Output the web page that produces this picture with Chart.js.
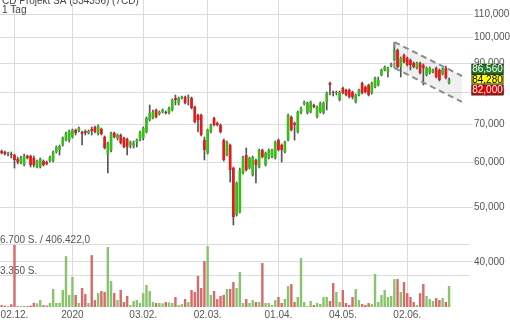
<!DOCTYPE html>
<html>
<head>
<meta charset="utf-8">
<script src="https://cdn.jsdelivr.net/npm/chart.js@4.4.1/dist/chart.umd.min.js"></script>
<style>
  html, body { margin: 0; padding: 0; background: #fff; }
  #wrap { width: 510px; height: 320px; position: relative; }
</style>
</head>
<body>
<div id="wrap"><canvas id="chart"></canvas></div>
<script>
const titleText = 'CD Projekt SA (534356) (7CD)';
const periodText = '1 Tag';

// daily candles, 26.11.2019 .. 19.06.2020
const opens = [
  62880, 62630, 62120, 62120, 61860, 60870, 59880, 59390, 61610, 61610,
  61120, 58910, 58910, 60370, 60130, 60370, 60370, 62630, 63140, 64440,
  65770, 65770, 66590, 68510, 68230, 67960, 68230, 67680, 68790, 69360,
  67410, 68790, 66590, 61860, 63140, 67680, 66310, 67130, 66310, 66040,
  64440, 64180, 65240, 65770, 66310, 67960, 71370, 71960, 74350, 73140,
  73750, 73750, 73440, 74350, 78080, 76500, 78080, 78400, 78080, 78080,
  75270, 72840, 72840, 65770, 62370, 67960, 71960, 70510, 69930, 65770,
  61860, 64440, 58670, 48420, 49020, 57480, 61860, 58670, 57010, 60620,
  58910, 63140, 59390, 61120, 61360, 61120, 65770, 64440, 62630, 65770,
  72250, 70510, 67960, 73440, 76190, 73440, 73750, 75880, 72250, 73750,
  73440, 76820, 83010, 80020, 79690, 77440, 81330, 80670, 80670, 80020,
  76820, 79040, 83010, 81660, 82330, 79690, 81660, 82330, 85760, 87530,
  86820, 88970, 91170, 94980, 88610, 93050, 91920, 91170, 90070, 88250,
  90070, 89330, 85760, 86470, 86820, 88250, 87530, 86110, 88250, 83010
];
const highs = [
  63140, 62880, 62630, 62630, 62120, 61360, 61610, 62120, 61860, 61860,
  61610, 60620, 61120, 60620, 60370, 61610, 62880, 64180, 64440, 66590,
  67960, 68510, 68790, 68790, 69360, 68230, 68510, 68510, 69360, 69650,
  69930, 69080, 66860, 65240, 67960, 67960, 67410, 67410, 66590, 66310,
  65500, 65500, 66040, 68230, 69360, 72250, 75880, 74350, 74660, 74050,
  74660, 74050, 75270, 77760, 79040, 78400, 78720, 78720, 79040, 78400,
  75570, 73140, 73140, 66590, 68790, 70220, 72250, 70790, 70220, 66040,
  65500, 64710, 58910, 55420, 58670, 61610, 63660, 61360, 61610, 60870,
  63400, 63400, 62630, 63400, 63400, 65500, 66040, 64710, 65500, 73140,
  72550, 70790, 74050, 75270, 77130, 76820, 77130, 76190, 75570, 76820,
  76820, 80020, 83350, 80340, 80340, 80340, 81660, 81000, 81000, 80340,
  79370, 81000, 83350, 82000, 82670, 83350, 85070, 85070, 87890, 88970,
  88610, 90070, 97710, 95370, 92300, 93440, 92300, 91550, 90430, 90430,
  90430, 89700, 88610, 88610, 87890, 88610, 87890, 88250, 88970, 84720
];
const lows = [
  62120, 61860, 61610, 61120, 58670, 59640, 59640, 59150, 60870, 58910,
  58910, 58670, 58670, 59150, 59390, 60130, 60130, 62370, 61860, 64180,
  65500, 65240, 66310, 67130, 67960, 64440, 67130, 67410, 67130, 67680,
  67130, 67130, 63400, 57480, 62630, 66310, 65770, 64710, 63660, 61860,
  63660, 63660, 63920, 65500, 65770, 67680, 71080, 71660, 71960, 72840,
  73440, 73140, 73140, 74050, 75880, 75880, 77760, 76190, 75880, 74660,
  70510, 67960, 66860, 60620, 62120, 67680, 69650, 69650, 67680, 60370,
  61610, 55420, 46490, 48230, 48820, 57250, 57950, 58430, 56780, 55190,
  58670, 61120, 59150, 60870, 61120, 60870, 62880, 60130, 62370, 65500,
  68230, 65770, 67680, 73140, 75880, 73140, 73440, 74960, 71960, 73440,
  73140, 74350, 79040, 78720, 79040, 77130, 79370, 78720, 78080, 77760,
  76500, 78720, 79370, 79690, 78720, 79370, 81330, 82000, 85410, 87180,
  85070, 88610, 90800, 88250, 85070, 90070, 88970, 87530, 88250, 87890,
  86110, 82330, 85410, 86110, 86470, 84720, 83690, 85760, 84380, 82670
];
const closes = [
  62370, 62120, 62370, 61860, 60620, 60130, 61120, 61610, 61120, 59390,
  59390, 60370, 60870, 59390, 59640, 61360, 62630, 63920, 64180, 66310,
  67680, 68230, 68510, 67680, 69080, 67410, 67680, 68230, 68230, 67960,
  69650, 67410, 63660, 64970, 67680, 66590, 67130, 64970, 63920, 63920,
  65240, 64970, 65770, 67960, 69080, 71960, 73440, 73750, 72250, 73750,
  74350, 73440, 74960, 77440, 77440, 78080, 78400, 76500, 78400, 74960,
  70790, 71370, 67130, 63140, 68510, 69930, 69930, 69930, 67960, 60620,
  65240, 58190, 48030, 55190, 58190, 61360, 58190, 61120, 61360, 59390,
  63140, 61360, 62370, 63140, 63140, 65240, 63140, 63140, 65240, 72840,
  68510, 69930, 73750, 74960, 76820, 76500, 76820, 75270, 75270, 76500,
  76500, 79690, 82330, 79690, 80020, 80020, 79690, 79040, 78400, 78400,
  79040, 80670, 79690, 80020, 79040, 83010, 84720, 84030, 87530, 88610,
  88250, 89700, 94980, 88610, 91920, 90430, 89330, 89330, 88610, 90070,
  86470, 88250, 88250, 88250, 87530, 85070, 84030, 87890, 84720, 84280
];
const volumes = [
  200, 150, 100, 300, 6700, 100, 100, 120, 100, 150,
  450, 400, 750, 200, 150, 430, 1950, 430, 450, 1840,
  5500, 1300, 3240, 1300, 430, 2050, 1400, 430, 5600, 750,
  1500, 1730, 1620, 6480, 2800, 1500, 750, 1840, 540, 1190,
  220, 650, 750, 430, 1500, 2380, 1730, 540, 430, 430,
  400, 540, 500, 430, 1080, 220, 320, 860, 540, 1840,
  1620, 3350, 2050, 4970, 6590, 1300, 1730, 860, 1190, 1300,
  1950, 1950, 2700, 2050, 3780, 430, 860, 430, 750, 540,
  540, 4750, 430, 430, 220, 750, 1080, 430, 860, 2270,
  2480, 540, 1080, 5290, 540, 110, 650, 220, 430, 320,
  1080, 1080, 650, 2590, 1620, 540, 1840, 430, 220, 1080,
  1950, 750, 320, 220, 430, 320, 3560, 540, 1300, 1840,
  1080, 1190, 3020, 3020, 1620, 2700, 1500, 1080, 540, 220,
  1500, 2480, 1190, 860, 650, 970, 750, 970, 540, 2270
];

// x axis: trading day slots (a few empty ones at the right end)
const slotCount = 146;
const slots = Array.from({ length: slotCount }, (_, i) => String(i));
const tickIndex = [4, 22, 44, 64, 86, 106, 126];
const tickText = ['02.12.', '2020', '03.02.', '02.03.', '01.04.', '04.05.', '02.06.'];

const priceTicks = [40000, 50000, 60000, 70000, 80000, 90000, 100000, 110000];
const volumeTicks = [3350, 6700];
const volumeTickText = ['3.350 S.', '6.700 S. / 406.422,0'];

// trend channel
const channelIndex = [122, 143];
const channelUpper = [98110, 85410];
const channelLower = [88250, 76820];

// price markers on the right
const markerValues = [86560, 84280, 82000];
const markerFill = ['#237a23', '#ffff00', '#e00000'];
const markerInk = ['#ffffff', '#000000', '#ffffff'];

const fontFamily = '"Liberation Sans", Arial, sans-serif';
const up = '#3cbc1c', down = '#e41b1b';

const candleColors = opens.map((o, i) => closes[i] >= o ? up : down);
const volumeColors = opens.map((o, i) => closes[i] > o ? '#88c46c' : (closes[i] < o ? '#d76a6a' : '#b0b0b0'));

const overlay = {
    id: 'overlay',
    afterDraw(chart) {
        const ctx = chart.ctx;
        ctx.save();
        ctx.font = '10px ' + fontFamily;
        ctx.fillStyle = '#444';
        ctx.textAlign = 'left';
        ctx.textBaseline = 'alphabetic';
        ctx.fillText(titleText, 2, 4);
        ctx.fillText(periodText, 2, 13);

        const yScale = chart.scales.y;
        const boxH = 10.5;
        const x0 = chart.chartArea.right + 1.5;
        const w = 32;
        const mid = yScale.getPixelForValue(markerValues[1]);
        markerValues.forEach((v, i) => {
            const cy = mid + (i - 1) * boxH;
            ctx.fillStyle = markerFill[i];
            ctx.fillRect(x0, cy - boxH / 2, w, boxH);
            ctx.strokeStyle = '#333';
            ctx.lineWidth = 1;
            ctx.strokeRect(x0 + 0.5, Math.round(cy - boxH / 2) + 0.5, w - 1, boxH - 1);
            ctx.fillStyle = markerInk[i];
            ctx.textAlign = 'center';
            ctx.textBaseline = 'middle';
            ctx.fillText(v.toLocaleString('en-US'), x0 + w / 2, cy + 0.5);
        });
        ctx.restore();
    }
};

const channelLine = {
    type: 'line',
    borderColor: '#8c8c8c',
    borderWidth: 2,
    borderDash: [6, 4],
    pointRadius: 0,
    yAxisID: 'y',
    order: 0
};

new Chart(document.getElementById('chart'), {
    type: 'bar',
    data: {
        labels: slots,
        datasets: [
            Object.assign({}, channelLine, {
                label: 'channelTop',
                data: channelIndex.map((i, k) => ({ x: slots[i], y: channelUpper[k] })),
                fill: false
            }),
            Object.assign({}, channelLine, {
                label: 'channelBottom',
                data: channelIndex.map((i, k) => ({ x: slots[i], y: channelLower[k] })),
                fill: '-1',
                backgroundColor: 'rgba(0, 0, 0, 0.06)'
            }),
            Object.assign({}, channelLine, {
                label: 'channelEdge',
                data: [
                    { x: slots[channelIndex[0]], y: channelUpper[0] },
                    { x: slots[channelIndex[0]], y: channelLower[0] }
                ],
                fill: false
            }),
            {
                label: 'body',
                data: opens.map((o, i) => [o, closes[i]]),
                backgroundColor: candleColors,
                grouped: false,
                barPercentage: 0.85,
                categoryPercentage: 1,
                minBarLength: 1,
                yAxisID: 'y',
                order: 1
            },
            {
                label: 'wick',
                data: lows.map((l, i) => [l, highs[i]]),
                backgroundColor: '#555',
                barThickness: 1,
                grouped: false,
                yAxisID: 'y',
                order: 2
            },
            {
                label: 'volume',
                data: volumes,
                backgroundColor: volumeColors,
                grouped: false,
                barPercentage: 0.75,
                categoryPercentage: 1,
                yAxisID: 'yv',
                order: 3
            }
        ]
    },
    options: {
        responsive: true,
        maintainAspectRatio: false,
        animation: false,
        layout: { padding: 0 },
        plugins: {
            legend: { display: false },
            tooltip: { enabled: false },
            filler: { drawTime: 'beforeDatasetsDraw' }
        },
        scales: {
            x: {
                offset: true,
                grid: { offset: false, color: '#dcdcdc', drawTicks: false },
                border: { display: false },
                ticks: {
                    autoSkip: false,
                    maxRotation: 0,
                    padding: 2,
                    color: '#555',
                    font: { size: 10, family: fontFamily },
                    callback: (v, i) => tickText[i]
                },
                afterBuildTicks: s => { s.ticks = tickIndex.map(v => ({ value: v })); },
                afterFit: s => { s.height = 13; s.paddingLeft = 0; s.paddingRight = 0; }
            },
            y: {
                type: 'logarithmic',
                position: 'right',
                min: 33270,
                max: 116470,
                grid: { color: '#dcdcdc', tickLength: 3 },
                border: { display: false },
                ticks: {
                    padding: 1,
                    color: '#555',
                    font: { size: 10, family: fontFamily },
                    callback: v => Number(v).toLocaleString('en-US')
                },
                afterBuildTicks: s => { s.ticks = priceTicks.map(v => ({ value: v })); },
                afterFit: s => { s.width = 40; s.paddingTop = 0; s.paddingBottom = 0; }
            },
            yv: {
                type: 'linear',
                position: 'left',
                min: 0,
                max: 33175,
                grid: { color: '#dcdcdc', drawTicks: false },
                border: { display: false },
                ticks: {
                    mirror: true,
                    padding: 0,
                    labelOffset: -5,
                    color: '#555',
                    font: { size: 10, family: fontFamily },
                    callback: (v, i) => volumeTickText[i]
                },
                afterBuildTicks: s => { s.ticks = volumeTicks.map(v => ({ value: v })); },
                afterFit: s => { s.width = 0; s.paddingTop = 0; s.paddingBottom = 0; }
            }
        }
    },
    plugins: [overlay]
});
</script>
</body>
</html>
